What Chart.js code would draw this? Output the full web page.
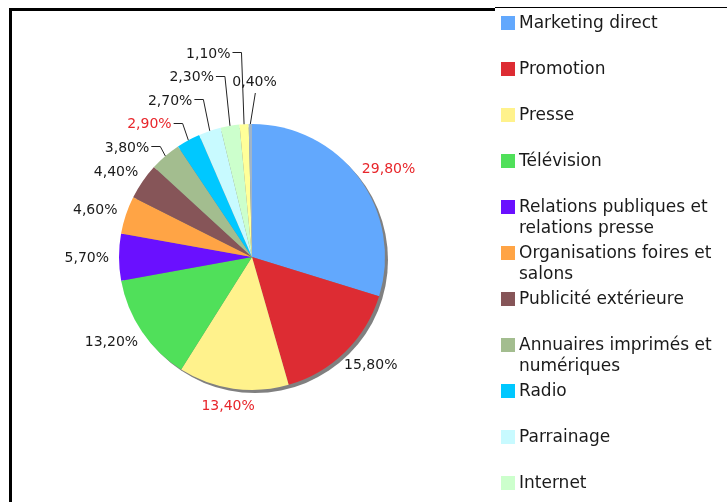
<!DOCTYPE html>
<html><head><meta charset="utf-8">
<script src="https://cdn.jsdelivr.net/npm/chart.js@4"></script>
<style>
html,body{margin:0;padding:0;background:#fff;}
#wrap{position:relative;width:727px;height:502px;overflow:hidden;}
#frame{position:absolute;left:9px;top:8px;width:486px;height:600px;border-left:3px solid #000;border-top:3px solid #000;box-sizing:border-box;}
#frame2{position:absolute;left:495px;top:7px;width:232px;height:1px;background:#000;}
#c{position:absolute;left:0;top:0;}
</style></head><body>
<div id="wrap"><div id="frame"></div><div id="frame2"></div><canvas id="c" width="727" height="502"></canvas></div>
<script>
// ---- data ----
const categories = [
  "Marketing direct", "Promotion", "Presse", "Télévision",
  "Relations publiques et relations presse", "Organisations foires et salons",
  "Publicité extérieure", "Annuaires imprimés et numériques", "Radio",
  "Parrainage", "Internet", "Mécénat", "Cinéma"
];
const shares = [29.8, 15.8, 13.4, 13.2, 5.7, 4.6, 4.4, 3.8, 2.9, 2.7, 2.3, 1.1, 0.4];

// ---- styles ----
const sliceColors = ["#62a8fd", "#dd2c33", "#fff28c", "#50e05a", "#6a10ff", "#ffa445",
  "#865558", "#a3bd8f", "#00c8ff", "#c8faff", "#ccffcc", "#ffff99", "#a0b4c8"];
const labelColors = ["#e8262b", "#1a1a1a", "#e8262b", "#1a1a1a", "#1a1a1a", "#1a1a1a",
  "#1a1a1a", "#1a1a1a", "#e8262b", "#1a1a1a", "#1a1a1a", "#1a1a1a", "#1a1a1a"];
// 0 = label beside slice, 1 = stacked label with leader line on the left, 2 = label above with leader
const labelMode = [0,0,0,0,0,0,0,1,1,1,1,1,2];
const FONT = '"DejaVu Sans", Verdana, sans-serif';

function fmt(v){ return v.toFixed(2).replace('.', ',') + '%'; }

const shadowPlugin = {
  id: 'shadow',
  beforeDatasetsDraw(chart){
    const arc = chart.getDatasetMeta(0).data[0];
    if (!arc) return;
    const ctx = chart.ctx;
    ctx.save();
    ctx.fillStyle = '#808080';
    ctx.beginPath();
    ctx.arc(arc.x + 3, arc.y + 3, arc.outerRadius, 0, Math.PI*2);
    ctx.fill();
    ctx.restore();
  }
};

const labelPlugin = {
  id: 'pieLabels',
  afterDatasetsDraw(chart){
    const ctx = chart.ctx;
    const meta = chart.getDatasetMeta(0);
    ctx.save();
    ctx.font = '14px ' + FONT;
    ctx.textBaseline = 'middle';
    let prevY = Infinity;
    meta.data.forEach((arc, i) => {
      const x = arc.x, y = arc.y, r = arc.outerRadius;
      const mid = (arc.startAngle + arc.endAngle) / 2;
      const c = Math.cos(mid), s = Math.sin(mid);
      const text = fmt(shares[i]);
      const w = ctx.measureText(text).width, h = 14;
      ctx.fillStyle = labelColors[i];
      ctx.strokeStyle = '#222';
      ctx.lineWidth = 1;
      if (labelMode[i] === 0) {
        const R = r + 10;
        ctx.textAlign = 'center';
        ctx.fillText(text, x + c*R + c*w/2, y + s*R + s*h/2 + 1);
      } else if (labelMode[i] === 1) {
        const ex = x + c*r, ey = y + s*r;
        let ly = y + s*(r + 13);
        if (ly > prevY - 23.5) ly = prevY - 23.5;
        prevY = ly;
        const bx = ex + (ly - ey) * (c/s) * 0.6;
        ctx.beginPath();
        ctx.moveTo(bx - 9, Math.round(ly) + 0.5);
        ctx.lineTo(bx, Math.round(ly) + 0.5);
        ctx.lineTo(ex, ey);
        ctx.stroke();
        ctx.textAlign = 'right';
        ctx.fillText(text, bx - 11, ly + 2);
      } else {
        const ex = x + c*r, ey = y + s*r;
        ctx.beginPath();
        ctx.moveTo(ex + 5, ey - 31);
        ctx.lineTo(ex, ey);
        ctx.stroke();
        ctx.textAlign = 'left';
        ctx.fillText(text, ex - 18, ey - 42);
      }
    });
    ctx.restore();
  }
};

const legendPlugin = {
  id: 'sideLegend',
  afterDraw(chart){
    const ctx = chart.ctx;
    ctx.save();
    ctx.font = '17px ' + FONT;
    ctx.textBaseline = 'middle';
    ctx.textAlign = 'left';
    const maxW = 206;
    categories.forEach((name, i) => {
      const cy = 23 + 46*i;
      ctx.fillStyle = sliceColors[i];
      ctx.fillRect(501, cy - 7, 14, 14);
      // wrap
      const words = name.split(' ');
      const lines = [];
      let cur = '';
      words.forEach(wd => {
        const t = cur ? cur + ' ' + wd : wd;
        if (ctx.measureText(t).width > maxW && cur) { lines.push(cur); cur = wd; }
        else cur = t;
      });
      if (cur) lines.push(cur);
      ctx.fillStyle = '#1a1a1a';
      lines.forEach((ln, k) => ctx.fillText(ln, 519, cy + 1 + k*21));
    });
    ctx.restore();
  }
};

new Chart(document.getElementById('c'), {
  type: 'pie',
  data: {
    labels: categories,
    datasets: [{
      data: shares,
      backgroundColor: sliceColors,
      borderWidth: 0,
      hoverOffset: 0,
      offset: 0
    }]
  },
  options: {
    responsive: false,
    animation: false,
    events: [],
    layout: { padding: { left: 119, top: 124, right: 342, bottom: 112 } },
    plugins: { legend: { display: false }, tooltip: { enabled: false } }
  },
  plugins: [shadowPlugin, labelPlugin, legendPlugin]
});
</script>
</body></html>
